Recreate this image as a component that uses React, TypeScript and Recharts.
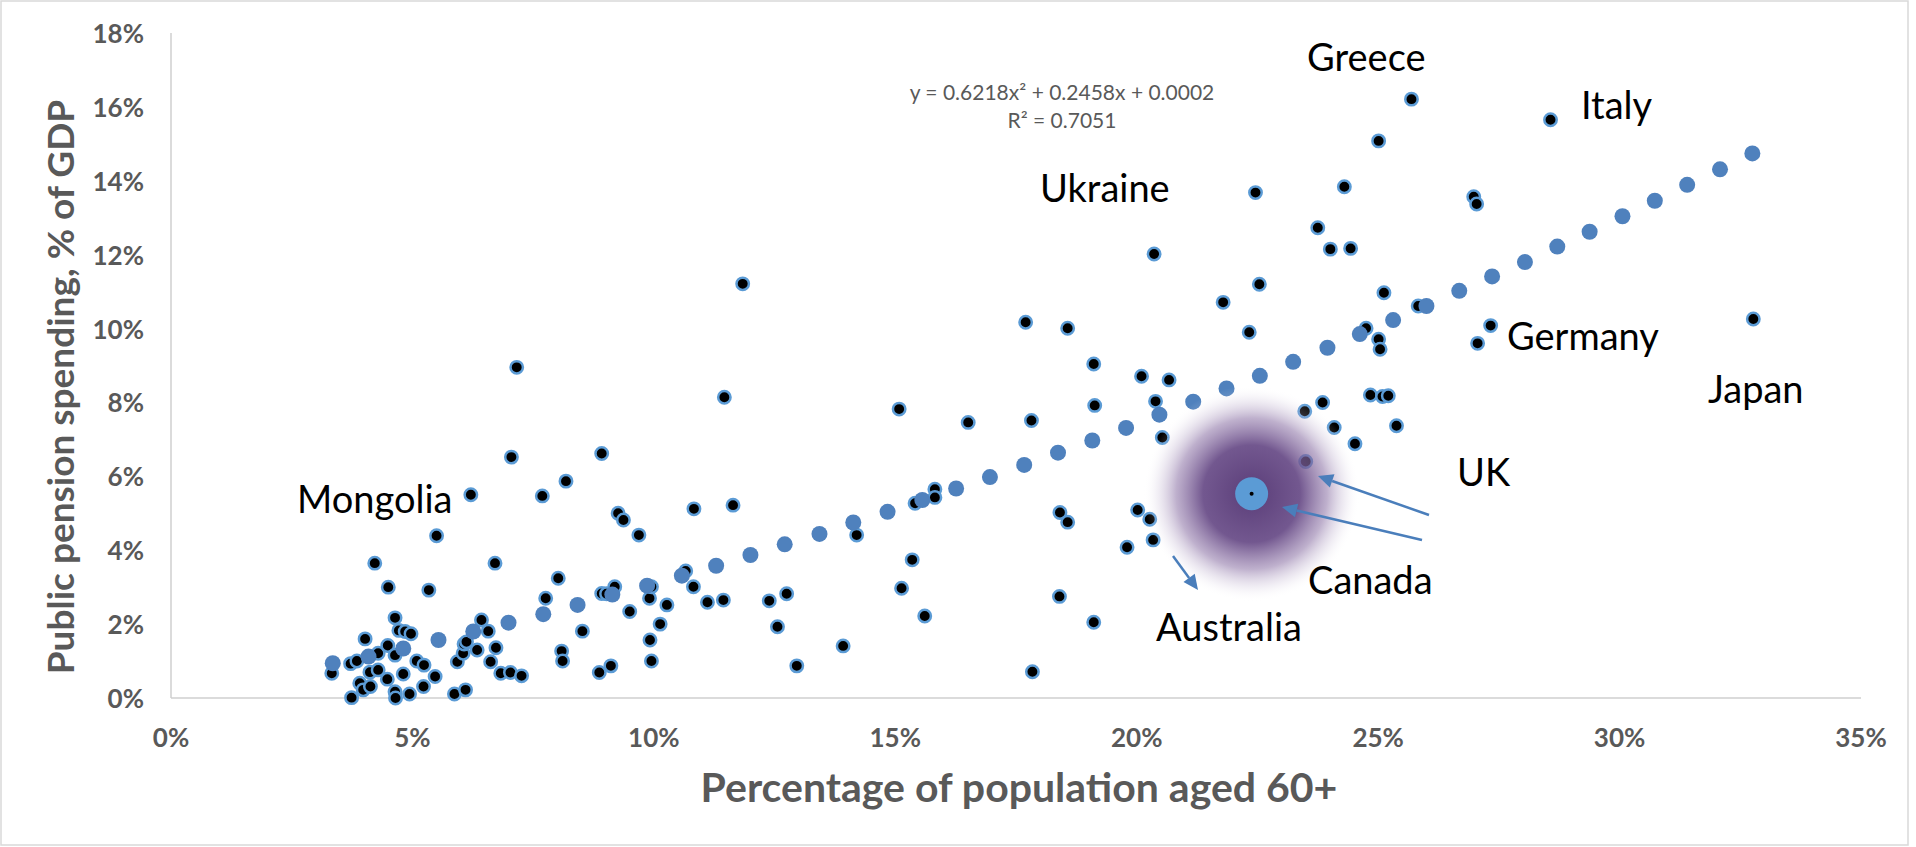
import { Scatter, ScatterChart, XAxis, YAxis } from "recharts";

const W = 1916;
const H = 847;
const PLOT = { left: 171, right: 1861, top: 33, bottom: 698 };
const FONT = "Lato, 'Open Sans', sans-serif";
const GREY = "#595959";

const xTicks = [0, 5, 10, 15, 20, 25, 30, 35];
const yTicks = [0, 2, 4, 6, 8, 10, 12, 14, 16, 18];

// % of population aged 60+ for each country
const countryAged = [
  3.33, 3.72, 3.85, 3.74, 3.91, 3.98, 4.02, 4.12, 4.13, 4.22, 4.29, 4.29, 4.48, 4.49, 4.5, 4.64,
  4.64, 4.64, 4.65, 4.72, 4.85, 4.97, 4.81, 4.94, 5.09, 5.24, 5.23, 5.34, 5.47, 5.5, 5.87, 5.93,
  6.05, 6.07, 6.12, 6.1, 6.21, 6.34, 6.43, 6.57, 6.62, 6.73, 6.71, 6.83, 7.03, 7.26, 7.05, 7.16,
  7.69, 7.76, 8.02, 8.09, 8.11, 8.18, 8.52, 8.87, 8.92, 8.92, 9.02, 9.11, 9.19, 9.26, 9.37, 9.5,
  9.69, 9.91, 9.95, 9.92, 9.95, 10.13, 10.27, 10.66, 10.82, 10.83, 11.11, 11.44, 11.46, 11.64,
  11.84, 12.39, 12.56, 12.75, 12.96, 13.92, 14.2, 15.08, 15.13, 15.35, 15.41, 15.61, 15.82, 15.82,
  16.51, 17.7, 17.82, 17.84, 18.4, 18.41, 18.57, 18.57, 19.11, 19.13, 19.11, 19.8, 20.02, 20.1,
  20.27, 20.34, 20.36, 20.39, 20.53, 20.67, 21.79, 22.33, 22.46, 22.54, 23.48, 23.5, 23.75, 23.85,
  24.01, 24.09, 24.3, 24.43, 24.52, 24.75, 24.84, 25.01, 25.01, 25.04, 25.09, 25.12, 25.21, 25.38,
  25.69, 25.83, 26.98, 27.04, 27.06, 27.33, 28.57, 32.77,
];

// public pension spending, % of GDP, same order as countryAged
const countrySpend = [
  0.67, 0.93, 1.0, 0.01, 0.4, 0.22, 1.6, 0.7, 0.31, 3.65, 1.21, 0.76, 0.51, 1.42, 3.0, 2.17,
  1.16, 0.17, 0.0, 1.83, 1.8, 1.74, 0.65, 0.11, 1.0, 0.89, 0.31, 2.92, 0.58, 4.39, 0.11, 0.98,
  1.21, 1.46, 1.52, 0.22, 5.5, 1.3, 2.11, 1.81, 0.98, 1.36, 3.65, 0.67, 0.69, 0.6, 6.52, 8.95,
  5.47, 2.7, 3.24, 1.27, 1.0, 5.87, 1.81, 0.69, 6.62, 2.83, 2.82, 0.87, 3.01, 5.0, 4.82, 2.34,
  4.41, 2.7, 3.01, 1.57, 1.0, 2.0, 2.52, 3.44, 3.01, 5.12, 2.59, 2.65, 8.14, 5.22,
  11.21, 2.63, 1.93, 2.82, 0.87, 1.41, 4.41, 7.82, 2.97, 3.74, 5.27, 2.22, 5.65, 5.43,
  7.46, 10.17, 7.51, 0.71, 2.75, 5.02, 4.76, 10.01, 9.04, 7.92, 2.05, 4.08, 5.09, 8.71,
  4.84, 4.28, 12.02, 8.03, 7.05, 8.61, 10.71, 9.9, 13.68, 11.2, 7.76, 6.4, 12.73, 8.0,
  12.15, 7.32, 13.84, 12.17, 6.88, 10.01, 8.2, 15.08, 9.71, 9.44, 8.16, 10.97, 8.18, 7.37,
  16.21, 10.61, 13.57, 13.37, 9.6, 10.08, 15.65, 10.26,
];

// fitted trend markers
const trendAged = [
  3.35, 4.09, 4.81, 5.54, 6.26, 6.99, 7.71, 8.42, 9.14, 9.86, 10.58, 11.29, 12.0, 12.71, 13.43,
  14.13, 14.84, 15.56, 16.26, 16.96, 17.67, 18.37, 19.08, 19.78, 20.47, 21.17, 21.86, 22.55, 23.24,
  23.95, 24.62, 25.31, 26.0, 26.68, 27.36, 28.04, 28.71, 29.38, 30.06, 30.73, 31.4, 32.08, 32.75,
];
const trendSpend = [
  0.94, 1.12, 1.34, 1.57, 1.8, 2.04, 2.27, 2.52, 2.8, 3.04, 3.31, 3.58, 3.87, 4.16, 4.44,
  4.75, 5.04, 5.36, 5.67, 5.98, 6.31, 6.64, 6.97, 7.31, 7.67, 8.02, 8.38, 8.72, 9.1,
  9.48, 9.85, 10.23, 10.61, 11.02, 11.41, 11.8, 12.22, 12.62, 13.04, 13.46, 13.89, 14.31, 14.74,
];

const canadaAged = 22.38;
const canadaSpend = 5.53;

const countryData = countryAged.map((x, i) => ({ x, y: countrySpend[i] }));
const trendData = trendAged.map((x, i) => ({ x, y: trendSpend[i] }));
const canadaData = [{ x: canadaAged, y: canadaSpend }];

const labels = [
  { text: "Greece", x: 1307, y: 71 },
  { text: "Italy", x: 1581, y: 119 },
  { text: "Ukraine", x: 1040, y: 202 },
  { text: "Germany", x: 1507, y: 350 },
  { text: "Japan", x: 1708, y: 403 },
  { text: "UK", x: 1457, y: 486 },
  { text: "Canada", x: 1308, y: 594 },
  { text: "Australia", x: 1156, y: 641 },
  { text: "Mongolia", x: 297, y: 513 },
];

// [tailX, tailY, tipX, tipY]
const arrows = [
  [1429, 515, 1318, 476],
  [1422, 540, 1282, 507],
  [1173, 556, 1198, 590],
];

const XTick = (props: any) => (
  <text
    x={props.x}
    y={PLOT.bottom + 39}
    textAnchor="middle"
    dominantBaseline="central"
    fontFamily={FONT}
    fontWeight={700}
    fontSize={26}
    fill={GREY}
  >
    {props.payload.value}%
  </text>
);

const YTick = (props: any) => (
  <text
    x={PLOT.left - 27}
    y={props.y}
    textAnchor="end"
    dominantBaseline="central"
    fontFamily={FONT}
    fontWeight={700}
    fontSize={26}
    fill={GREY}
  >
    {props.payload.value}%
  </text>
);

const CountryDot = (p: any) => (
  <circle cx={p.cx} cy={p.cy} r={6.2} fill="#000" stroke="#5b9bd5" strokeWidth={2.5} />
);

const TrendDot = (p: any) => <circle cx={p.cx} cy={p.cy} r={8} fill="#4f81bd" />;

const Glow = (p: any) => (
  <g>
    <defs>
      <radialGradient id="canadaGlow">
        <stop offset="0%" stopColor="#5a3d78" stopOpacity={1} />
        <stop offset="45%" stopColor="#684b87" stopOpacity={0.93} />
        <stop offset="70%" stopColor="#8a70a4" stopOpacity={0.55} />
        <stop offset="88%" stopColor="#cbc0d8" stopOpacity={0.22} />
        <stop offset="100%" stopColor="#ffffff" stopOpacity={0} />
      </radialGradient>
    </defs>
    <circle cx={p.cx} cy={p.cy} r={108} fill="url(#canadaGlow)" />
  </g>
);

const CanadaDot = (p: any) => (
  <g>
    <circle cx={p.cx} cy={p.cy} r={16.5} fill="#5b9bd5" />
    <circle cx={p.cx} cy={p.cy} r={2} fill="#000" />
  </g>
);

function Arrow({ a }: { a: number[] }) {
  const [x1, y1, x2, y2] = a;
  const ang = Math.atan2(y2 - y1, x2 - x1);
  const len = 15;
  const half = 7;
  const bx = x2 - len * Math.cos(ang);
  const by = y2 - len * Math.sin(ang);
  const px = -Math.sin(ang) * half;
  const py = Math.cos(ang) * half;
  return (
    <g>
      <line x1={x1} y1={y1} x2={bx} y2={by} stroke="#4a7ebb" strokeWidth={2.5} />
      <polygon points={`${x2},${y2} ${bx + px},${by + py} ${bx - px},${by - py}`} fill="#4a7ebb" />
    </g>
  );
}

export default function App() {
  return (
    <div style={{ position: "absolute", left: 0, top: 0, width: W, height: H, background: "#fff" }}>
      <ScatterChart
        width={W}
        height={H}
        margin={{ top: PLOT.top, right: W - PLOT.right, bottom: 0, left: 0 }}
      >
        <XAxis
          type="number"
          dataKey="x"
          domain={[0, 35]}
          ticks={xTicks}
          interval={0}
          height={H - PLOT.bottom}
          axisLine={{ stroke: "#cfcfcf", strokeWidth: 1.5 }}
          tickLine={false}
          tick={XTick}
        />
        <YAxis
          type="number"
          dataKey="y"
          domain={[0, 18]}
          ticks={yTicks}
          interval={0}
          width={PLOT.left}
          axisLine={{ stroke: "#cfcfcf", strokeWidth: 1.5 }}
          tickLine={false}
          tick={YTick}
        />
        <Scatter data={countryData} shape={CountryDot} isAnimationActive={false} />
        <Scatter data={trendData} shape={TrendDot} isAnimationActive={false} />
        <Scatter data={canadaData} shape={Glow} isAnimationActive={false} />
        <Scatter data={canadaData} shape={CanadaDot} isAnimationActive={false} />
      </ScatterChart>
      <svg
        width={W}
        height={H}
        style={{ position: "absolute", left: 0, top: 0, pointerEvents: "none" }}
      >
        <rect x={1} y={1} width={1907} height={844} fill="none" stroke="#d9d9d9" strokeWidth={1.5} />
        {arrows.map((a, i) => (
          <Arrow key={i} a={a} />
        ))}
        {labels.map((l) => (
          <text key={l.text} x={l.x} y={l.y} fontFamily={FONT} fontSize={38} fill="#000">
            {l.text}
          </text>
        ))}
        <text x={1062} y={100} textAnchor="middle" fontFamily={FONT} fontSize={21} fill={GREY}>
          y = 0.6218x² + 0.2458x + 0.0002
        </text>
        <text x={1062} y={128} textAnchor="middle" fontFamily={FONT} fontSize={21} fill={GREY}>
          R² = 0.7051
        </text>
        <text
          x={1019}
          y={802}
          textAnchor="middle"
          fontFamily={FONT}
          fontWeight={700}
          fontSize={41}
          fill={GREY}
        >
          Percentage of population aged 60+
        </text>
        <text
          transform="translate(74 387) rotate(-90)"
          textAnchor="middle"
          fontFamily={FONT}
          fontWeight={700}
          fontSize={37}
          fill={GREY}
        >
          Public pension spending, % of GDP
        </text>
      </svg>
    </div>
  );
}
